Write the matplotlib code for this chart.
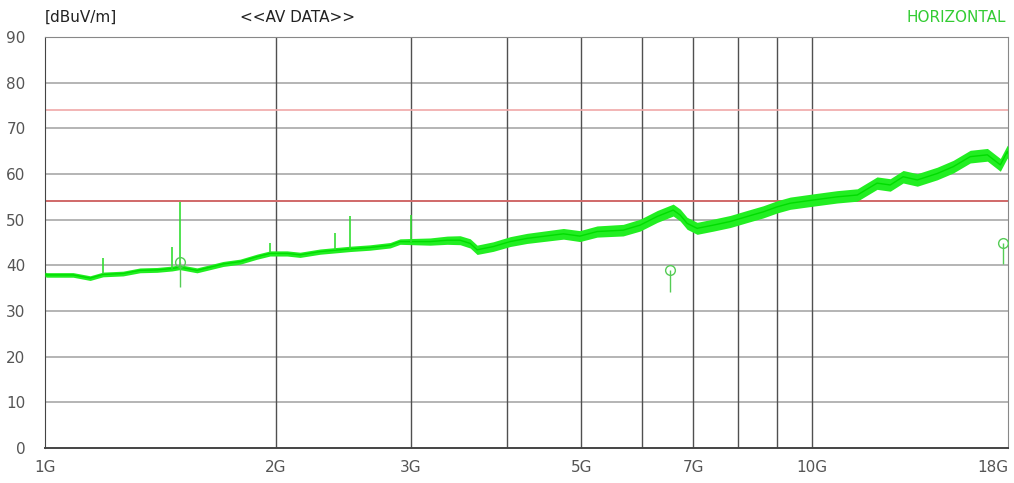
import numpy as np
import matplotlib.pyplot as plt
from matplotlib.ticker import FixedLocator, NullLocator

# trace (GHz, dBuV/m)
freq = [1.0, 1.006, 1.088, 1.145, 1.19, 1.264, 1.33, 1.40, 1.464, 1.499,
        1.578, 1.707, 1.796, 1.89, 1.965, 2.068, 2.15, 2.283, 2.388, 2.498,
        2.652, 2.818, 2.903, 3.0, 3.177, 3.344, 3.476, 3.583, 3.658, 3.838,
        4.04, 4.25, 4.74, 4.98, 5.244, 5.67, 5.967, 6.281, 6.59, 6.73,
        6.87, 7.08, 7.43, 7.82, 8.23, 8.63, 9.0, 9.36, 10.03, 10.78,
        11.45, 12.15, 12.64, 13.14, 13.71, 14.55, 15.27, 16.07, 16.92, 17.59,
        17.96, 18.0]
level = [38.0, 37.9, 37.9, 37.2, 38.0, 38.2, 38.9, 39.0, 39.3, 39.6,
         38.9, 40.3, 40.8, 41.9, 42.6, 42.6, 42.3, 43.0, 43.3, 43.6,
         43.9, 44.4, 45.2, 45.2, 45.2, 45.5, 45.5, 44.8, 43.4, 44.1,
         45.2, 45.9, 46.9, 46.4, 47.4, 47.7, 48.8, 50.7, 52.1, 51.0,
         49.2, 48.1, 48.8, 49.6, 50.7, 51.7, 52.8, 53.6, 54.3, 55.0,
         55.4, 58.0, 57.6, 59.4, 58.7, 60.1, 61.6, 63.8, 64.2, 62.0,
         64.9, 64.5]
# rough half thickness of the noisy band
band_f = [1.0, 2.9, 3.5, 6.0, 18.0]
band_w = [0.5, 0.6, 1.0, 1.3, 1.4]

spike_f = [1.19, 1.464, 1.499, 1.965, 2.388, 2.498, 3.0]
spike_top = [41.6, 44.1, 53.9, 45.0, 47.0, 50.7, 51.0]

mark_f = [1.499, 6.53, 17.75]
mark_lvl = [40.8, 39.0, 44.9]
mark_low = [35.3, 34.2, 40.3]

limit_pk = 74
limit_av = 54

xticks = [1, 2, 3, 5, 7, 10, 18]
xtick_labels = ['1G', '2G', '3G', '5G', '7G', '10G', '18G']
xgrid = [2, 3, 4, 5, 6, 7, 8, 9, 10]

fig = plt.figure(figsize=(10.14, 4.83), dpi=100)
ax = fig.add_axes([45 / 1014, 35 / 483, 963 / 1014, 411 / 483])
ax.set_xscale('log')
ax.set_xlim(1, 18)
ax.set_ylim(0, 90)

for v in range(10, 90, 10):
    ax.axhline(v, color='#a0a0a0', lw=1.1, zorder=1)
for g in xgrid:
    ax.axvline(g, color='#505050', lw=1.0, zorder=1)

ax.axhline(limit_pk, color='#f0a8a8', lw=1.2, zorder=2)
ax.axhline(limit_av, color='#d06868', lw=1.4, zorder=2)

f = np.array(freq)
lv = np.array(level)
w = np.interp(np.log10(f), np.log10(band_f), band_w)
ax.fill_between(f, lv - w, lv + w, color='#22ee22', lw=0, zorder=3)
ax.plot(f, lv, color='#00dd00', lw=1.0, zorder=4)

for sf, st in zip(spike_f, spike_top):
    ax.vlines(sf, np.interp(sf, f, lv), st, color='#33dd33', lw=1.2, zorder=4)

ax.vlines(mark_f, mark_low, mark_lvl, color='#55cc55', lw=1.0, zorder=5)
ax.plot(mark_f, mark_lvl, 'o', ms=7, mfc='none', mec='#55cc55', mew=1.0, zorder=5)

ax.xaxis.set_major_locator(FixedLocator(xticks))
ax.xaxis.set_minor_locator(NullLocator())
ax.set_xticklabels(xtick_labels)
ax.set_yticks(range(0, 91, 10))
ax.tick_params(axis='both', length=0, colors='#555555', labelsize=11)
ax.tick_params(axis='x', pad=9)
ax.tick_params(axis='y', pad=14)
labs = ax.get_xticklabels()
labs[-1].set_horizontalalignment('right')

for s in ['top', 'right']:
    ax.spines[s].set_color('#888888')
ax.spines['left'].set_color('#444444')
ax.spines['bottom'].set_color('#444444')
ax.spines['bottom'].set_linewidth(1.4)

fig.text(45 / 1014, 1 - 17 / 483, '[dBuV/m]', fontsize=11, color='#222222', va='center')
fig.text(240 / 1014, 1 - 17 / 483, '<<AV DATA>>', fontsize=11, color='#222222', va='center')
fig.text(1006 / 1014, 1 - 17 / 483, 'HORIZONTAL', fontsize=11, color='#33cc33',
         va='center', ha='right')

fig.savefig('out.png', dpi=100)
